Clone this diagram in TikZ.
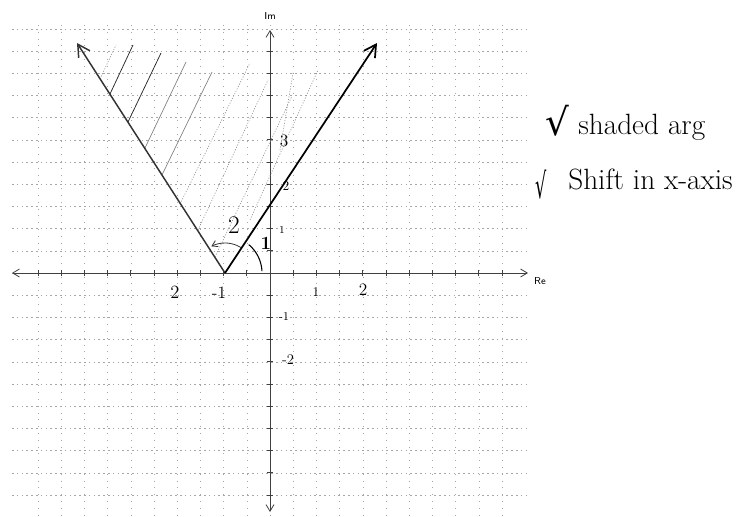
\documentclass[tikz,border=0pt]{standalone}
\usepackage{fontspec}
\newfontfamily\djv{DejaVu Sans}
\usetikzlibrary{arrows.meta}
\begin{document}
\begin{tikzpicture}[x=0.75pt,y=-0.75pt,
  hgrid/.style={gray!70, line width=0.4pt, dash pattern=on 1.2pt off 2.4pt},
  vgrid/.style={gray!70, line width=0.45pt, dash pattern=on 0.6pt off 4.5pt},
  axisline/.style={black!75, line width=0.6pt, {Straight Barb[length=5pt,width=6pt]}-{Straight Barb[length=5pt,width=6pt]}},
  tickmark/.style={black!75, line width=0.5pt},
  mainline/.style={line width=1.3pt, -{Straight Barb[length=9pt,width=10pt]}},
  hdark/.style={black!85, line width=0.55pt},
  hmid/.style={gray, line width=0.5pt},
  hfaint/.style={gray!90, line width=0.45pt, dash pattern=on 0.8pt off 1.2pt},
  hand/.style={inner sep=0pt},
  small/.style={font=\sffamily\fontsize{7.5}{7.5}\selectfont, inner sep=0pt}
]
\useasboundingbox (0,0) rectangle (754,517);
\fill[white] (0,0) rectangle (754,517);

% grid
\foreach \k in {-10,...,10} \draw[vgrid] ({270+23.2*\k},25) -- ({270+23.2*\k},517);
\foreach \k in {-11,...,11} \draw[hgrid] (12,{273+22.2*\k}) -- (528,{273+22.2*\k});

% axes
\coordinate (reL) at (12,273);
\coordinate (reR) at (528,273);
\coordinate (imT) at (270,30);
\coordinate (imB) at (270,512);
\draw[axisline] (reL) -- (reR);
\draw[axisline] (imB) -- (imT);
\foreach \k in {-10,...,10} \draw[tickmark] ({270+23.2*\k},270) -- ({270+23.2*\k},276);
\foreach \k in {-10,...,10} \draw[tickmark] (267,{273+22.2*\k}) -- (273,{273+22.2*\k});
\node[small] (relab) at (540,281) {Re};
\node[small] (imlab) at (270,16) {Im};

% hatching
\coordinate (ha1) at (100,79);  \coordinate (ha2) at (116,45);
\coordinate (hb1) at (110,94);  \coordinate (hb2) at (133,45);
\coordinate (hc1) at (128,122); \coordinate (hc2) at (161,53);
\coordinate (hd1) at (145,148); \coordinate (hd2) at (186,62);
\coordinate (he1) at (162,175); \coordinate (he2) at (212,72);
\coordinate (hf1) at (180,204); \coordinate (hf2) at (250,63);
\coordinate (hg1) at (198,230); \coordinate (hg2) at (268,80);
\coordinate (hh1) at (215,257); \coordinate (hh2) at (292,96);
\coordinate (hi1) at (250,220); \coordinate (hi2) at (318,70);
\coordinate (hj1) at (280,150); \coordinate (hj2) at (293,73);
\draw[hfaint] (ha1) -- (ha2);
\draw[hdark] (hb1) -- (hb2);
\draw[hdark] (hc1) -- (hc2);
\draw[hmid] (hd1) -- (hd2);
\draw[hmid] (he1) -- (he2);
\draw[hfaint] (hf1) -- (hf2);
\draw[hfaint] (hg1) -- (hg2);
\draw[hfaint] (hh1) -- (hh2);
\draw[hfaint] (hi1) -- (hi2);
\draw[hfaint] (hj1) -- (hj2);

% main lines
\coordinate (V) at (225,273);
\coordinate (L) at (77,43);
\coordinate (R) at (377,43);
\draw[mainline, black!80, line width=1.1pt] (V) -- (L);
\draw[mainline, black] (V) -- (R);

% angle arcs
\draw[black, line width=0.8pt] plot[smooth, domain=3:50, samples=20] ({225+37*cos(\x)},{273-37*sin(\x)});
\draw[black!80, line width=0.6pt, -{Straight Barb[length=4pt,width=5pt]}] plot[smooth, domain=58:117, samples=20] ({225+30*cos(\x)},{273-30*sin(\x)});
\node[hand, font=\fontsize{19}{19}\selectfont] (lab2) at (234,225) {2};
\node[hand, font=\bfseries\fontsize{14}{14}\selectfont] (lab1) at (266,243) {1};

% axis numbers
\node[hand, font=\fontsize{14}{14}\selectfont] (rm2) at (175,292) {2};
\node[hand, font=\fontsize{13}{13}\selectfont] (rm1) at (219,293) {-1};
\node[hand, font=\fontsize{10}{10}\selectfont] (rp1) at (316,292) {1};
\node[hand, font=\fontsize{13}{13}\selectfont] (rp2) at (363,290) {2};
\node[hand, font=\fontsize{13}{13}\selectfont] (ip3) at (284,141) {3};
\node[hand, font=\fontsize{10}{10}\selectfont] (ip2) at (286,186) {2};
\node[hand, font=\fontsize{8}{8}\selectfont] (ip1) at (282,230) {1};
\node[hand, font=\fontsize{9}{9}\selectfont] (im1) at (284,317) {-1};
\node[hand, font=\fontsize{11}{11}\selectfont] (im2) at (288,360) {-2};

% annotations
\node[hand, font=\djv\fontsize{28}{28}\selectfont] (chk1) at (557,121) {√};
\node[hand, anchor=base west, font=\fontsize{22}{22}\selectfont] (txt1) at (578,135) {shaded arg};
\node[hand, font=\djv\fontsize{22}{22}\selectfont] (chk2) at (541,185) {\scalebox{0.6}[1.2]{√}};
\node[hand, anchor=base west, font=\fontsize{22}{22}\selectfont] (txt2) at (568,190) {Shift in x-axis};
\end{tikzpicture}
\end{document}
